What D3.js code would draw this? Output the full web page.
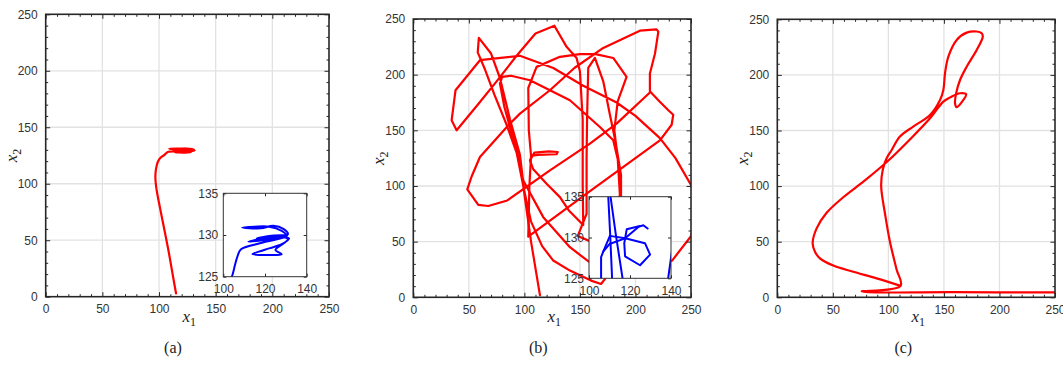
<!DOCTYPE html>
<html>
<head>
<meta charset="utf-8">
<script src="https://cdn.jsdelivr.net/npm/d3@7"></script>
<style>
  body { margin: 0; background: #fff; }
  svg { display: block; }
  .tick text { font-family: "Liberation Sans", Arial, sans-serif; font-size: 12px; fill: #333; }
  .tick line { stroke: #262626; }
  .lbl { font-family: "Liberation Serif", "Times New Roman", serif; fill: #222; }
</style>
</head>
<body>
<div id="vis"></div>
<script>
// ---- data ----
var majorTicks = [0, 50, 100, 150, 200, 250];
var minorTicks = d3.range(0, 251, 10).filter(function(d) { return d % 50; });
var insetXTicks = [100, 120, 140];
var insetYTicks = [125, 130, 135];
var captions = ["(a)", "(b)", "(c)"];

// (a) approach from the bottom, then the small tangle near (120,130)
var aTrack = [[115,3],[112,20],[108.5,40],[105,58],[101,78],[97.8,95],[96.8,105],[97.3,113],[99,119.5],
  [101.5,123.2],[104.5,125.3],[105.6,126.4],[107,127.6],[108.5,128.3],[119,129.1],[130.5,129.9],
  [128,130.5],[122,131],[115,131],[109,130.9],[118,130.8],[124,131.1],[129,130.7],[131,130.1],
  [127,129.7],[120,129.4],[112,129.2],[122,129.7],[131.5,129.6],[128,128.9],[122,128.4],[117,128],
  [114,127.7],[121,127.6],[128,127.7],[125,128.2],[129,129],[131,129.5],[125,129.9],[116,129.6],
  [123,129.9],[130,130]];

// (b) wandering track
var bTrack1 = [[114,2],[106,50],[99,100],[93,130],[84,155],[73,182],[64,206],[58,220],[59,233],
  [70,219],[78,197],[87,160],[96,128],[100,95],[106,68],[116,46],[126,33],[141,24],[160,15],[169,12],[173,17],
  [182,60],[186,92],[185,120],[180,141],[168,153],[141,177],[123,186],[105,195],[88,199],[80,198],[78,192],
  [82,171],[87,153],[93,132],[99,105],[117,72],[141,45],[158,32],
  [200,28],[233,33],[250,55],[258,80],[250,101],
  [236,125],[222,143],[200,163],[183,175],[153,190],[126,206],[96,217],[60,213],[38,186],[34.5,159],[39,150],
  [58,173],[75,194],[93,217],[110,237],[127,244],[138,225],[147,215],[150,203],[152.5,160],[152.5,100],[153,65],
  [140,78],[132,90],[120,102],[108,115],[105,123],
  [109,130],[122,131],[130,130.5],[129,128.5],[112,128],[106,127],
  [104,150],[103.5,188],[111,207],[132,216],[150,218.5],[164,218.5],[180,215],[192,198],[184,176],[181,150],[184,125],[186,92],
  [175,60],[160,50],[148,55],[156,75],[156,125],[156.5,164],[157.5,206],[163.5,215],[171,194],[177,164],[182,140],[187,110],[187,90],[180,50]];
var bTrack2 = [[106,127],[104.5,100],[104,75],[103.5,54.5],[160,96],[222,141],[232.6,155],[234,164],[229.6,168],
  [220.6,177],[213,185],[213,201],[217.6,219],[220.6,238.6],[219,240.7],[204,239.5],[171,224],[145,206],[123,186],
  [96,165],[86,155],[60,126],[52.5,108.5],[48.6,97],[58.5,83],[67.5,82],[84.6,87],[123,114],[159,138],[183,156],[213,184]];
// (b) zoomed detail
var bInset = [
  [[111.6,123],[110.4,130],[109,137]],
  [[109.4,137],[113,130.5],[117.6,123]],
  [[105.9,123],[105.9,127.6],[107,128.3],[110,129.2],[117.6,129.9],[124.1,131.3],[126.5,131.5],[128.6,131.1]],
  [[107,128.3],[110.2,130.2],[117.6,129.9],[127.3,129.3],[129.8,127.9],[124.9,126.6],[117.6,127.7],[117.2,129.3],[118.4,131],[124.9,131.4]],
  [[137.5,123],[140,127.5],[142,131]]
];

// (c)
var cTrack = [[250,4.5],[160,4.6],[76,5.3],[111,10.3],[107.4,25],[101.4,50],[97,75],[93.5,100],[95,115],[98.4,125],
  [103,132.5],[110.4,144.5],[122.4,153.5],[137.5,164],[146.5,177.5],[149.5,186.5],[151,201.5],[154,216.4],
  [161.5,231.4],[170.5,238],[179.5,239],[184,237.4],[185,234.4],[179.5,222.4],[170.5,207.4],[164.5,195.4],
  [161,183.4],[160,174.5],[161.5,171],[167.5,177.5],[170,182.5],[164.5,183.5],[156,180],[149.5,176],
  [137.5,161],[119.4,142],[100,123],[80,106],[59.4,90],[44.4,76],[35.4,62],[31.8,48.6],[33.9,41],[38.4,35],
  [50.4,28.5],[68.4,23],[89.4,17],[111,10.3]];

// ---- layout ----
var W = 1063, H = 367;
var smooth = d3.curveCatmullRom.alpha(0.5);
var panels = [
  { key: "a", box: [45.7, 14.3, 283.3, 282.4], capX: 173, tracks: [aTrack], curve: smooth,
    inset: { box: [223.3, 193.3, 83.4, 83.4], tracks: [aTrack], curve: smooth } },
  { key: "b", box: [413.3, 19, 277.7, 278.3], capX: 538.3, tracks: [bTrack1, bTrack2], curve: d3.curveLinear,
    inset: { box: [589, 196.7, 82, 81.6], tracks: bInset, curve: d3.curveLinear } },
  { key: "c", box: [777.3, 19.3, 277.7, 278], capX: 903.3, tracks: [cTrack], curve: smooth }
];

var svg = d3.select("#vis").append("svg").attr("width", W).attr("height", H);
var defs = svg.append("defs");

function addAxis(g, axis, tx, ty) {
  var a = g.append("g").attr("transform", "translate(" + tx + "," + ty + ")").call(axis);
  a.select(".domain").remove();
  return a;
}

function clipRect(id, b) {
  defs.append("clipPath").attr("id", id).append("rect")
    .attr("x", b[0]).attr("y", b[1]).attr("width", b[2]).attr("height", b[3]);
}

function frame(g, x, y, xMajor, yMajor, xMinor, yMinor, big, small, padX, padY) {
  var x0 = x.range()[0], x1 = x.range()[1], y0 = y.range()[0], y1 = y.range()[1];
  addAxis(g, d3.axisBottom(x).tickValues(xMajor).tickSizeInner(-big).tickSizeOuter(0).tickPadding(padX), 0, y0);
  addAxis(g, d3.axisTop(x).tickValues(xMajor).tickSizeInner(-big).tickSizeOuter(0).tickFormat(""), 0, y1);
  addAxis(g, d3.axisLeft(y).tickValues(yMajor).tickSizeInner(-big).tickSizeOuter(0).tickPadding(padY), x0, 0);
  addAxis(g, d3.axisRight(y).tickValues(yMajor).tickSizeInner(-big).tickSizeOuter(0).tickFormat(""), x1, 0);
  if (xMinor) {
    addAxis(g, d3.axisBottom(x).tickValues(xMinor).tickSize(-small).tickFormat(""), 0, y0);
    addAxis(g, d3.axisTop(x).tickValues(xMinor).tickSize(-small).tickFormat(""), 0, y1);
    addAxis(g, d3.axisLeft(y).tickValues(yMinor).tickSize(-small).tickFormat(""), x0, 0);
    addAxis(g, d3.axisRight(y).tickValues(yMinor).tickSize(-small).tickFormat(""), x1, 0);
  }
}

panels.forEach(function(p, i) {
  var bx = p.box[0], by = p.box[1], bw = p.box[2], bh = p.box[3];
  var x = d3.scaleLinear().domain([0, 250]).range([bx, bx + bw]);
  var y = d3.scaleLinear().domain([0, 250]).range([by + bh, by]);
  var g = svg.append("g").attr("id", "panel_" + p.key);
  clipRect("clip_" + p.key, p.box);

  // grid
  g.append("g").selectAll("line").data(majorTicks.slice(1, -1)).enter().append("line")
    .attr("x1", function(d) { return x(d); }).attr("x2", function(d) { return x(d); })
    .attr("y1", by).attr("y2", by + bh)
    .attr("stroke", "#e2e2e2").attr("stroke-width", 1.3);
  g.append("g").selectAll("line").data(majorTicks.slice(1, -1)).enter().append("line")
    .attr("y1", function(d) { return y(d); }).attr("y2", function(d) { return y(d); })
    .attr("x1", bx).attr("x2", bx + bw)
    .attr("stroke", "#e2e2e2").attr("stroke-width", 1.3);

  // trajectories
  var line = d3.line().x(function(d) { return x(d[0]); }).y(function(d) { return y(d[1]); }).curve(p.curve);
  g.append("g").attr("clip-path", "url(#clip_" + p.key + ")")
    .selectAll("path").data(p.tracks).enter().append("path")
    .attr("d", line)
    .attr("fill", "none").attr("stroke", "#ff0000").attr("stroke-width", 2.2)
    .attr("stroke-linejoin", "round").attr("stroke-linecap", "round");

  // frame and ticks
  frame(g, x, y, majorTicks, majorTicks, minorTicks, minorTicks, 4.5, 2.5, 8, 8);
  g.append("rect").attr("x", bx).attr("y", by).attr("width", bw).attr("height", bh)
    .attr("fill", "none").attr("stroke", "#262626").attr("stroke-width", 1.6);

  // axis labels
  var xl = g.append("text").attr("class", "lbl").attr("x", bx + bw / 2 + 2).attr("y", 322)
    .attr("text-anchor", "middle").style("font-size", "17px");
  xl.append("tspan").style("font-style", "italic").text("x");
  xl.append("tspan").attr("dy", 4).style("font-size", "12px").text("1");
  var yl = g.append("text").attr("class", "lbl")
    .attr("transform", "translate(" + (bx - 29) + "," + (by + bh / 2) + ")rotate(-90)")
    .attr("text-anchor", "middle").style("font-size", "17px");
  yl.append("tspan").style("font-style", "italic").text("x");
  yl.append("tspan").attr("dy", 4).style("font-size", "12px").text("2");

  // caption
  g.append("text").attr("class", "lbl").attr("x", p.capX).attr("y", 353)
    .attr("text-anchor", "middle").style("font-size", "16px").text(captions[i]);

  // inset
  if (p.inset) {
    var ib = p.inset.box;
    var ix = d3.scaleLinear().domain([100, 140]).range([ib[0], ib[0] + ib[2]]);
    var iy = d3.scaleLinear().domain([125, 135]).range([ib[1] + ib[3], ib[1]]);
    var ig = g.append("g").attr("class", "inset");
    ig.append("rect").attr("x", ib[0]).attr("y", ib[1]).attr("width", ib[2]).attr("height", ib[3])
      .attr("fill", "#fff");
    clipRect("iclip_" + p.key, ib);
    var iline = d3.line().x(function(d) { return ix(d[0]); }).y(function(d) { return iy(d[1]); }).curve(p.inset.curve);
    ig.append("g").attr("clip-path", "url(#iclip_" + p.key + ")")
      .selectAll("path").data(p.inset.tracks).enter().append("path")
      .attr("d", iline)
      .attr("fill", "none").attr("stroke", "#0000ff").attr("stroke-width", 2)
      .attr("stroke-linejoin", "round").attr("stroke-linecap", "round");
    frame(ig, ix, iy, insetXTicks, insetYTicks, null, null, 3, 0, 8, 5);
    ig.append("rect").attr("x", ib[0]).attr("y", ib[1]).attr("width", ib[2]).attr("height", ib[3])
      .attr("fill", "none").attr("stroke", "#333").attr("stroke-width", 1);
  }
});
</script>
</body>
</html>
